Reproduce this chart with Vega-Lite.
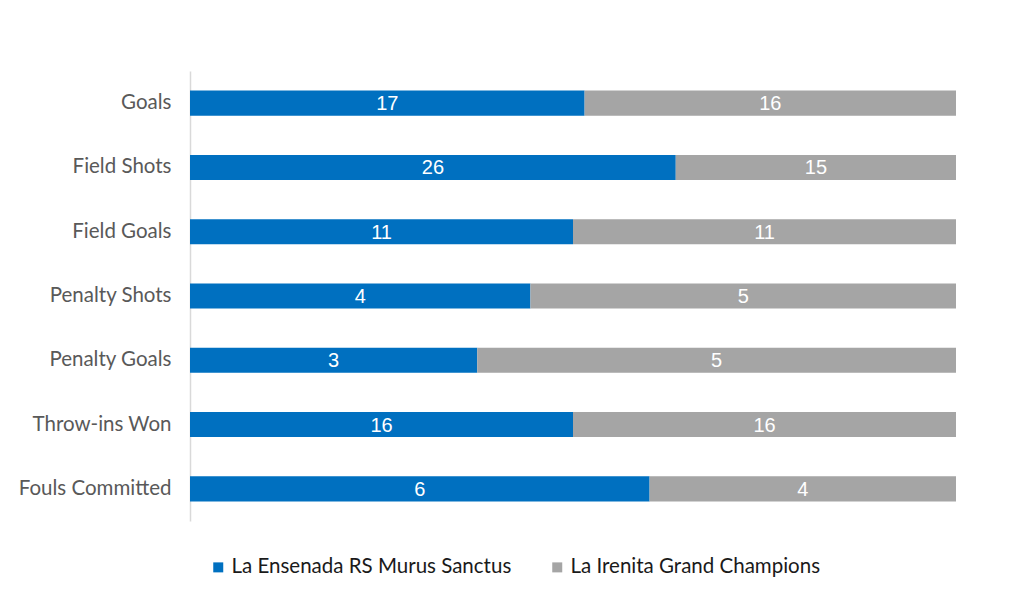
{
  "$schema": "https://vega.github.io/schema/vega-lite/v6.json",
  "autosize": {"type": "none"},
  "width": 766,
  "height": 450,
  "padding": {"left": 190, "top": 71, "right": 68, "bottom": 85},
  "background": "white",
  "config": {"view": {"stroke": null}},
  "data": {
    "values": [
      {"stat": "Goals", "team": "La Ensenada RS Murus Sanctus", "value": 17},
      {"stat": "Goals", "team": "La Irenita Grand Champions", "value": 16},
      {"stat": "Field Shots", "team": "La Ensenada RS Murus Sanctus", "value": 26},
      {"stat": "Field Shots", "team": "La Irenita Grand Champions", "value": 15},
      {"stat": "Field Goals", "team": "La Ensenada RS Murus Sanctus", "value": 11},
      {"stat": "Field Goals", "team": "La Irenita Grand Champions", "value": 11},
      {"stat": "Penalty Shots", "team": "La Ensenada RS Murus Sanctus", "value": 4},
      {"stat": "Penalty Shots", "team": "La Irenita Grand Champions", "value": 5},
      {"stat": "Penalty Goals", "team": "La Ensenada RS Murus Sanctus", "value": 3},
      {"stat": "Penalty Goals", "team": "La Irenita Grand Champions", "value": 5},
      {"stat": "Throw-ins Won", "team": "La Ensenada RS Murus Sanctus", "value": 16},
      {"stat": "Throw-ins Won", "team": "La Irenita Grand Champions", "value": 16},
      {"stat": "Fouls Committed", "team": "La Ensenada RS Murus Sanctus", "value": 6},
      {"stat": "Fouls Committed", "team": "La Irenita Grand Champions", "value": 4}
    ]
  },
  "transform": [
    {"stack": "value", "groupby": ["stat"], "sort": [{"field": "team", "order": "ascending"}], "offset": "normalize", "as": ["v0", "v1"]},
    {"calculate": "(datum.v0 + datum.v1) / 2", "as": "mid"}
  ],
  "encoding": {
    "y": {
      "field": "stat",
      "type": "nominal",
      "sort": ["Goals", "Field Shots", "Field Goals", "Penalty Shots", "Penalty Goals", "Throw-ins Won", "Fouls Committed"],
      "scale": {"paddingInner": 0.61, "paddingOuter": 0.305},
      "axis": {
        "title": null,
        "ticks": false,
        "grid": false,
        "domainColor": "#D9D9D9",
        "domainWidth": 1.5,
        "labelFont": "Lato",
        "labelFontSize": 20.5,
        "labelColor": "#595959",
        "labelPadding": 19
      }
    }
  },
  "layer": [
    {
      "mark": {"type": "bar", "stroke": null},
      "encoding": {
        "x": {"field": "v0", "type": "quantitative", "scale": {"domain": [0, 1]}, "axis": null},
        "x2": {"field": "v1"},
        "color": {
          "field": "team",
          "type": "nominal",
          "scale": {"domain": ["La Ensenada RS Murus Sanctus", "La Irenita Grand Champions"], "range": ["#0070C0", "#A5A5A5"]},
          "legend": {
            "title": null,
            "orient": "none",
            "direction": "horizontal",
            "legendX": 18,
            "legendY": 486,
            "symbolType": "square",
            "symbolSize": 100,
            "symbolStrokeWidth": 0,
            "labelFont": "Lato",
            "labelFontSize": 20.5,
            "labelColor": "#1a1a1a",
            "labelOffset": 3,
            "columnPadding": 35,
            "labelLimit": 400
          }
        }
      }
    },
    {
      "mark": {"type": "text", "color": "white", "font": "Liberation Sans", "fontSize": 20, "baseline": "middle", "align": "center", "dy": 1},
      "encoding": {
        "x": {"field": "mid", "type": "quantitative"},
        "text": {"field": "value", "type": "quantitative"}
      }
    }
  ]
}
